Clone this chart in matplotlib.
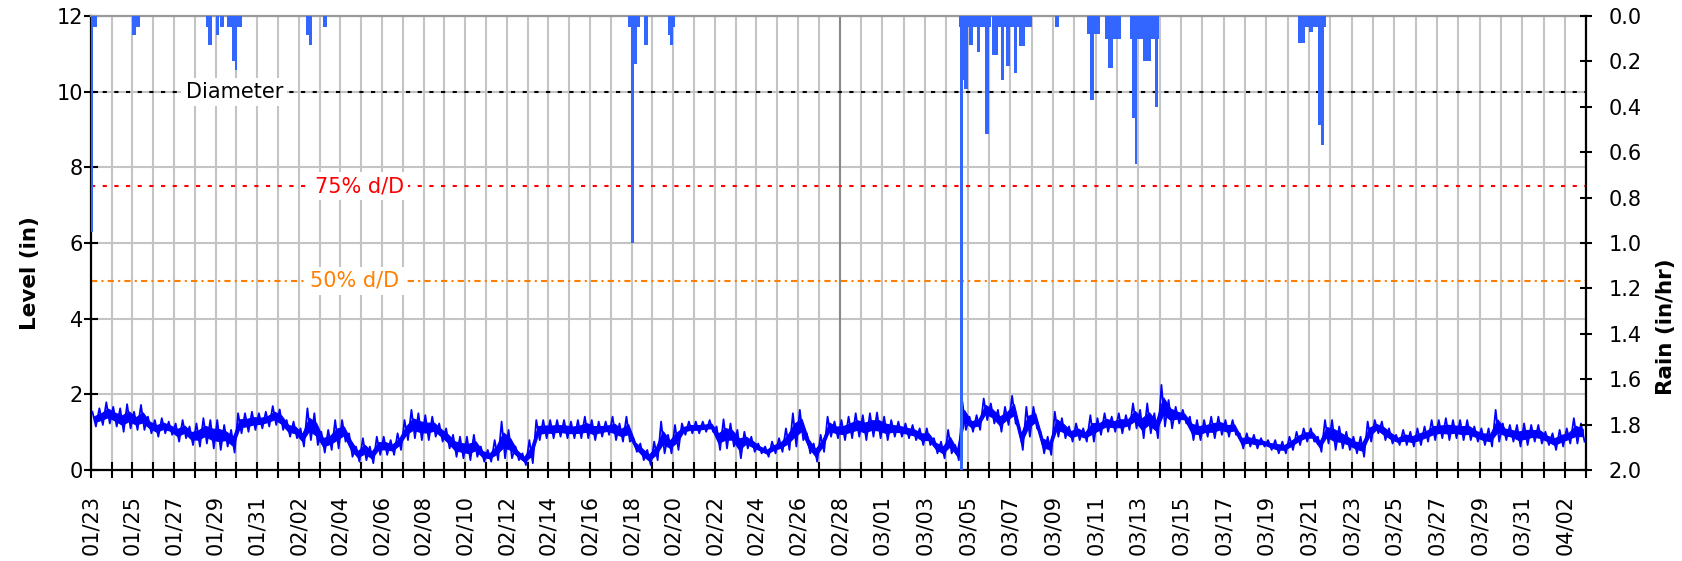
import numpy as np
import pandas as pd
import matplotlib
matplotlib.use("Agg")
import matplotlib.pyplot as plt

# ---------------- data ----------------
start_date = "2016-01-23"
n_days = 71

# level (in): high / low reading per 8-hour block (3 per day)
level_hi = [
    1.54, 1.63, 1.79, 1.67, 1.63, 1.74, 1.54, 1.72, 1.41, 1.32, 1.37, 1.28,
    1.23, 1.32, 1.15, 1.23, 1.37, 1.32, 1.32, 1.19, 1.06, 1.50, 1.50, 1.54,
    1.50, 1.54, 1.69, 1.60, 1.32, 1.28, 1.10, 1.63, 1.50, 1.01, 1.06, 1.32,
    1.32, 0.97, 0.62, 0.84, 0.62, 0.88, 0.88, 0.79, 0.97, 1.32, 1.59, 1.50,
    1.45, 1.41, 1.23, 1.10, 0.93, 0.88, 0.88, 0.93, 0.62, 0.53, 0.79, 1.28,
    1.06, 0.62, 0.44, 0.79, 1.32, 1.32, 1.32, 1.32, 1.32, 1.28, 1.32, 1.41,
    1.32, 1.28, 1.28, 1.41, 1.23, 1.41, 0.84, 0.70, 0.53, 0.75, 1.28, 0.93,
    1.19, 1.23, 1.28, 1.28, 1.28, 1.32, 1.15, 1.34, 1.23, 1.06, 1.01, 0.88,
    0.70, 0.62, 0.75, 0.84, 1.10, 1.50, 1.59, 0.97, 0.70, 0.93, 1.41, 1.28,
    1.32, 1.41, 1.50, 1.45, 1.50, 1.52, 1.41, 1.32, 1.28, 1.23, 1.19, 1.10,
    1.10, 0.84, 0.75, 1.06, 0.66, 1.81, 1.41, 1.45, 1.89, 1.76, 1.59, 1.67,
    1.96, 1.15, 1.67, 1.67, 1.01, 0.88, 1.54, 1.37, 1.15, 1.23, 1.10, 1.45,
    1.37, 1.50, 1.41, 1.50, 1.45, 1.76, 1.59, 1.76, 1.50, 2.25, 1.85, 1.67,
    1.59, 1.41, 1.32, 1.32, 1.41, 1.41, 1.32, 1.32, 0.97, 0.97, 0.93, 0.84,
    0.79, 0.79, 0.75, 0.88, 1.01, 1.10, 1.10, 0.88, 1.32, 1.32, 1.15, 1.01,
    0.88, 0.88, 1.28, 1.32, 1.28, 1.10, 0.93, 1.06, 1.01, 1.10, 1.15, 1.32,
    1.32, 1.37, 1.32, 1.32, 1.32, 1.15, 1.10, 1.10, 1.59, 1.23, 1.19, 1.19,
    1.23, 1.19, 1.19, 1.01, 0.97, 1.06, 1.10, 1.37, 1.23,
]
level_lo = [
    1.15, 1.19, 1.23, 1.15, 1.01, 1.10, 1.06, 1.06, 0.97, 0.88, 0.97, 0.93,
    0.75, 0.84, 0.66, 0.62, 0.70, 0.57, 0.53, 0.62, 0.46, 0.97, 1.01, 1.06,
    1.10, 1.15, 1.19, 1.06, 0.88, 0.84, 0.62, 0.79, 0.66, 0.46, 0.53, 0.57,
    0.75, 0.35, 0.22, 0.26, 0.18, 0.40, 0.40, 0.40, 0.53, 0.79, 0.84, 0.79,
    0.79, 0.88, 0.75, 0.57, 0.35, 0.31, 0.26, 0.35, 0.22, 0.22, 0.26, 0.31,
    0.31, 0.26, 0.13, 0.18, 0.79, 0.84, 0.84, 0.88, 0.84, 0.84, 0.84, 0.84,
    0.79, 0.88, 0.93, 0.79, 0.75, 0.75, 0.48, 0.26, 0.13, 0.26, 0.44, 0.44,
    0.53, 0.93, 0.97, 0.97, 1.01, 1.01, 0.53, 0.57, 0.62, 0.31, 0.57, 0.48,
    0.44, 0.35, 0.44, 0.48, 0.53, 0.62, 0.79, 0.44, 0.22, 0.48, 0.88, 0.84,
    0.79, 0.84, 0.88, 0.79, 0.88, 0.84, 0.79, 0.88, 0.88, 0.84, 0.79, 0.66,
    0.66, 0.44, 0.31, 0.44, 0.26, 1.06, 1.01, 1.06, 1.32, 1.23, 1.01, 1.19,
    1.23, 0.53, 0.88, 1.10, 0.44, 0.40, 0.88, 0.84, 0.75, 0.79, 0.75, 0.75,
    0.93, 1.01, 1.01, 0.97, 1.06, 1.10, 0.84, 0.97, 0.84, 1.15, 1.10, 1.23,
    1.23, 0.79, 0.79, 0.88, 0.84, 0.93, 0.88, 0.93, 0.57, 0.62, 0.57, 0.62,
    0.53, 0.44, 0.44, 0.53, 0.66, 0.75, 0.75, 0.48, 0.70, 0.53, 0.57, 0.53,
    0.44, 0.35, 0.75, 0.97, 0.79, 0.70, 0.66, 0.66, 0.62, 0.66, 0.75, 0.79,
    0.84, 0.79, 0.84, 0.79, 0.79, 0.75, 0.66, 0.62, 0.75, 0.79, 0.75, 0.62,
    0.66, 0.75, 0.70, 0.66, 0.53, 0.62, 0.70, 0.70, 0.75,
]

# rain (in/hr): blocks given as start day, end day (days since 01/23) and intensity
rain_start = [0.00, 0.03, 1.98, 2.18, 5.54, 5.65, 6.02, 6.21, 6.53, 6.78, 6.92, 7.05,
              10.35, 10.50, 11.18, 25.82, 25.97, 26.12, 26.60, 27.75, 27.85, 28.00,
              41.61, 41.64, 41.78, 41.85, 42.06, 42.44, 42.50, 42.81, 43.14, 43.40,
              43.56, 43.80, 44.17, 44.40, 46.10, 47.60, 47.75, 48.44, 48.60, 49.60,
              49.70, 49.82, 50.20, 50.78, 57.50, 57.50, 58.00, 58.40, 58.55]
rain_end = [0.30, 0.10, 2.18, 2.37, 5.65, 5.81, 6.18, 6.41, 6.78, 6.92, 7.05, 7.26,
            10.50, 10.62, 11.37, 26.40, 26.12, 26.25, 26.80, 27.85, 28.00, 28.10,
            42.60, 41.78, 41.85, 42.00, 42.25, 42.58, 43.10, 43.00, 43.42, 45.00,
            43.70, 44.00, 44.31, 44.70, 46.30, 48.20, 47.90, 49.19, 48.80, 50.97,
            49.82, 49.95, 50.60, 50.92, 58.80, 57.80, 58.20, 58.55, 58.70]
rain_val = [0.05, 0.95, 0.084, 0.05, 0.05, 0.128, 0.084, 0.05, 0.05, 0.20, 0.24, 0.05,
            0.084, 0.128, 0.05, 0.05, 1.00, 0.21, 0.128, 0.084, 0.128, 0.05,
            0.05, 2.05, 0.28, 0.32, 0.128, 0.16, 0.05, 0.52, 0.17, 0.05,
            0.28, 0.22, 0.25, 0.13, 0.05, 0.08, 0.37, 0.10, 0.23, 0.10,
            0.45, 0.65, 0.20, 0.40, 0.05, 0.12, 0.07, 0.48, 0.57]

ref_levels = [10.0, 7.5, 5.0]
ref_names = ["Diameter", "75% d/D", "50% d/D"]
ref_colors = ["#000000", "#ff0000", "#ff8000"]
ref_label_day = [6.9, 12.9, 12.7]

left_ticks = [0, 2, 4, 6, 8, 10, 12]
right_ticks = [0.0, 0.2, 0.4, 0.6, 0.8, 1.0, 1.2, 1.4, 1.6, 1.8, 2.0]

# ---------------- figure ----------------
W, H = 1682, 561
fig = plt.figure(figsize=(W / 100, H / 100), dpi=100)
x0, x1, yb, yt = 90.7, 1586.3, 470, 16
ax = fig.add_axes([x0 / W, 1 - yb / H, (x1 - x0) / W, (yb - yt) / H])

A = 749.0 / 36.0
B = 746.6 / 35.0


def fwd(d):
    d = np.asarray(d, dtype=float)
    return np.where(d < 36, d * A, 36 * A + (d - 36) * B)


def inv(p):
    p = np.asarray(p, dtype=float)
    return np.where(p < 36 * A, p / A, 36 + (p - 36 * A) / B)


ax.set_xscale("function", functions=(fwd, inv))
ax.set_xlim(0, n_days)
ax.set_ylim(0, 12)

# grid
ax.set_axisbelow(True)
ax.grid(True, color="#c4c4c4", lw=1.5)
ax.axvline(36, color="#8a8a8a", lw=1.5, zorder=1.2)

# level trace: core band plus zig-zag out to each block's high and low
hi = np.asarray(level_hi)
lo = np.asarray(level_lo)
idx = np.arange(len(hi))
tc = (idx + 0.5) / 3.0
rng = hi - lo
ax.fill_between(tc, lo + 0.3 * rng, hi - 0.3 * rng, color="#0000ff",
                linewidth=0.8, edgecolor="#0000ff", zorder=3)
t = np.column_stack([(idx + 0.25) / 3.0, (idx + 0.75) / 3.0]).ravel()
v = np.column_stack([hi, lo]).ravel()
ax.plot(t, v, color="#0000ff", lw=1.3, zorder=3)

# reference lines
styles = [(0, (2.0, 3.6)), (0, (2.0, 3.6)), (0, (3.0, 2.0, 1.0, 2.0))]
for lev, name, col, ld, ls in zip(ref_levels, ref_names, ref_colors, ref_label_day, styles):
    ax.axhline(lev, color=col, lw=1.5, linestyle=ls, zorder=2.5)
    ax.text(ld, lev, name, color=col, fontsize=15, ha="center", va="center", zorder=4,
            bbox=dict(facecolor="white", edgecolor="none", pad=3))

# ticks
dates = pd.date_range(start_date, periods=n_days + 1, freq="D")
xt_labels = [d.strftime("%m/%d") if i % 2 == 0 else "" for i, d in enumerate(dates)]
ax.set_xticks(np.arange(n_days + 1))
ax.set_xticklabels(xt_labels)
ax.tick_params(axis="x", direction="inout", length=11.5, width=1.5, pad=12,
               labelsize=15, labelrotation=90, color="black")
ax.set_yticks(left_ticks)
ax.tick_params(axis="y", direction="inout", length=9.4, width=1.5, pad=1,
               labelsize=15)

for s in ["left", "bottom"]:
    ax.spines[s].set_color("black")
    ax.spines[s].set_linewidth(1.6)
ax.spines["top"].set_color("#9a9a9a")
ax.spines["top"].set_linewidth(1.6)
ax.spines["right"].set_visible(False)

# rain on the inverted right axis
ax2 = ax.twinx()
ax2.set_ylim(2.0, 0.0)
ax2.bar(rain_start, rain_val, width=np.asarray(rain_end) - np.asarray(rain_start),
        align="edge", color="#3366ff", linewidth=0, zorder=3)
ax2.set_yticks(right_ticks)
ax2.set_yticklabels([f"{r:.1f}" for r in right_ticks])
ax2.tick_params(axis="y", direction="inout", length=8.5, width=1.5, pad=12,
                labelsize=15)
for s in ["left", "bottom", "top"]:
    ax2.spines[s].set_visible(False)
ax2.spines["right"].set_color("black")
ax2.spines["right"].set_linewidth(1.6)
ax2.set_xlim(0, n_days)

fig.text(30 / W, 1 - 273.5 / H, "Level (in)", rotation=90, ha="center", va="center",
         fontsize=15.5, fontweight="bold")
fig.text(1666 / W, 1 - 327 / H, "Rain (in/hr)", rotation=90, ha="center", va="center",
         fontsize=15.5, fontweight="bold")

fig.savefig("out.png", dpi=100)
